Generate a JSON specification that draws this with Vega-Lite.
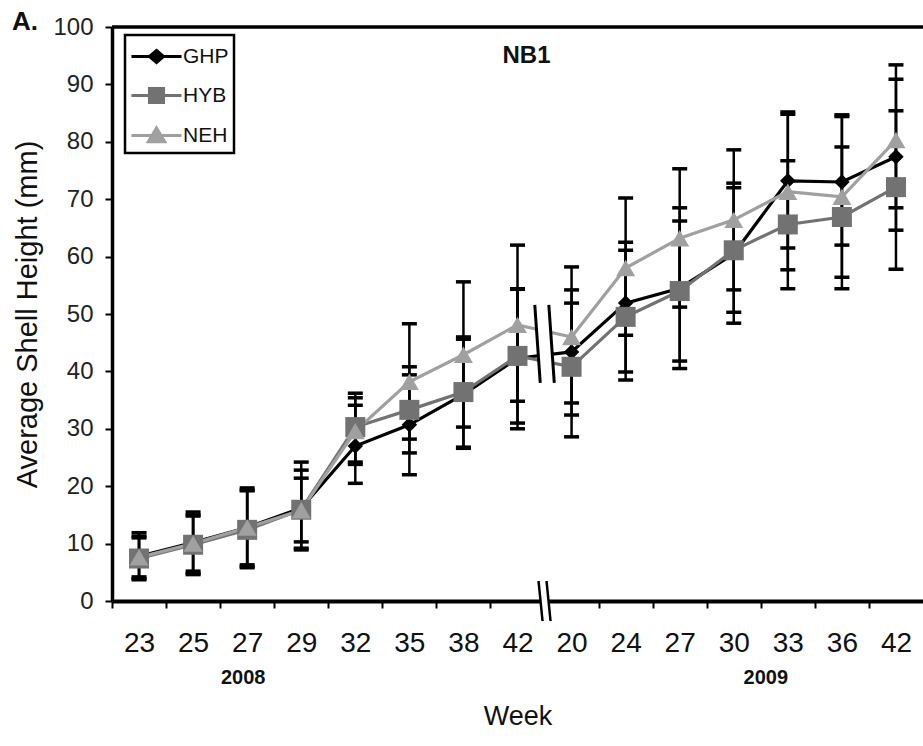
{
  "$schema": "https://vega.github.io/schema/vega-lite/v6.json",
  "autosize": "none",
  "width": 811,
  "height": 574,
  "padding": {"left": 112, "top": 27, "right": 0, "bottom": 145},
  "background": "white",
  "config": {"view": {"stroke": null}, "font": "Liberation Sans"},
  "title": {"text": "A.", "anchor": "start", "frame": "group", "dx": -100, "offset": -20, "fontSize": 26, "fontWeight": "bold", "font": "Liberation Sans", "color": "#111"},
  "datasets": {
    "shell": [
      {"week": "2008-23", "series": "GHP", "mean": 7.8, "lo": 3.7, "hi": 11.9},
      {"week": "2008-25", "series": "GHP", "mean": 10.2, "lo": 4.8, "hi": 15.5},
      {"week": "2008-27", "series": "GHP", "mean": 12.8, "lo": 6.0, "hi": 19.7},
      {"week": "2008-29", "series": "GHP", "mean": 16.2, "lo": 8.9, "hi": 24.2},
      {"week": "2008-32", "series": "GHP", "mean": 27.0, "lo": 20.5, "hi": 34.1},
      {"week": "2008-35", "series": "GHP", "mean": 30.7, "lo": 22.0, "hi": 39.4},
      {"week": "2008-38", "series": "GHP", "mean": 36.0, "lo": 26.6, "hi": 45.6},
      {"week": "2008-42", "series": "GHP", "mean": 42.3, "lo": 30.0, "hi": 54.3},
      {"week": "2009-20", "series": "GHP", "mean": 43.4, "lo": 32.4, "hi": 54.2},
      {"week": "2009-24", "series": "GHP", "mean": 51.9, "lo": 39.9, "hi": 62.5},
      {"week": "2009-27", "series": "GHP", "mean": 54.5, "lo": 40.5, "hi": 68.5},
      {"week": "2009-30", "series": "GHP", "mean": 60.5, "lo": 48.4, "hi": 72.8},
      {"week": "2009-33", "series": "GHP", "mean": 73.2, "lo": 61.5, "hi": 85.2},
      {"week": "2009-36", "series": "GHP", "mean": 73.0, "lo": 62.0, "hi": 84.7},
      {"week": "2009-42", "series": "GHP", "mean": 77.4, "lo": 64.6, "hi": 90.9},
      {"week": "2008-23", "series": "HYB", "mean": 7.4, "lo": 3.9, "hi": 11.3},
      {"week": "2008-25", "series": "HYB", "mean": 9.8, "lo": 4.6, "hi": 15.0},
      {"week": "2008-27", "series": "HYB", "mean": 12.4, "lo": 5.8, "hi": 19.2},
      {"week": "2008-29", "series": "HYB", "mean": 15.9, "lo": 9.2, "hi": 22.8},
      {"week": "2008-32", "series": "HYB", "mean": 30.3, "lo": 24.2, "hi": 36.2},
      {"week": "2008-35", "series": "HYB", "mean": 33.3, "lo": 25.8, "hi": 40.8},
      {"week": "2008-38", "series": "HYB", "mean": 36.4, "lo": 26.8, "hi": 46.0},
      {"week": "2008-42", "series": "HYB", "mean": 42.7, "lo": 31.0, "hi": 54.4},
      {"week": "2009-20", "series": "HYB", "mean": 40.8, "lo": 28.6, "hi": 51.9},
      {"week": "2009-24", "series": "HYB", "mean": 49.5, "lo": 38.5, "hi": 61.1},
      {"week": "2009-27", "series": "HYB", "mean": 54.0, "lo": 41.8, "hi": 66.2},
      {"week": "2009-30", "series": "HYB", "mean": 61.1, "lo": 50.3, "hi": 72.0},
      {"week": "2009-33", "series": "HYB", "mean": 65.6, "lo": 54.4, "hi": 76.7},
      {"week": "2009-36", "series": "HYB", "mean": 66.9, "lo": 54.4, "hi": 79.1},
      {"week": "2009-42", "series": "HYB", "mean": 72.1, "lo": 57.8, "hi": 85.4},
      {"week": "2008-23", "series": "NEH", "mean": 7.6, "lo": 4.2, "hi": 11.0},
      {"week": "2008-25", "series": "NEH", "mean": 10.0, "lo": 5.2, "hi": 14.8},
      {"week": "2008-27", "series": "NEH", "mean": 12.8, "lo": 6.3, "hi": 19.3},
      {"week": "2008-29", "series": "NEH", "mean": 15.8, "lo": 10.3, "hi": 21.4},
      {"week": "2008-32", "series": "NEH", "mean": 29.6, "lo": 23.8, "hi": 35.4},
      {"week": "2008-35", "series": "NEH", "mean": 38.2, "lo": 28.2, "hi": 48.3},
      {"week": "2008-38", "series": "NEH", "mean": 42.9, "lo": 30.3, "hi": 55.6},
      {"week": "2008-42", "series": "NEH", "mean": 48.1, "lo": 34.8, "hi": 62.0},
      {"week": "2009-20", "series": "NEH", "mean": 46.0, "lo": 34.5, "hi": 58.2},
      {"week": "2009-24", "series": "NEH", "mean": 58.0, "lo": 46.3, "hi": 70.2},
      {"week": "2009-27", "series": "NEH", "mean": 63.2, "lo": 51.2, "hi": 75.3},
      {"week": "2009-30", "series": "NEH", "mean": 66.4, "lo": 54.2, "hi": 78.6},
      {"week": "2009-33", "series": "NEH", "mean": 71.3, "lo": 57.7, "hi": 84.8},
      {"week": "2009-36", "series": "NEH", "mean": 70.4, "lo": 56.4, "hi": 84.4},
      {"week": "2009-42", "series": "NEH", "mean": 80.3, "lo": 68.5, "hi": 93.4}
    ],
    "years": [
      {"week": "2008-27", "label": "2008", "v": -13.5, "side": "a"},
      {"week": "2009-30", "label": "2009", "v": -13.5, "side": "b"}
    ],
    "breaks": [
      {"week": "2008-42", "v": 44.8}
    ],
    "axisbreak": [
      {"week": "2008-42", "v": 0}
    ]
  },
  "layer": [
    {
      "data": {"name": "shell"},
      "mark": {"type": "rule", "color": "black", "strokeWidth": 2.5},
      "encoding": {
        "x": {"field": "week", "type": "ordinal", "scale": {"type": "band", "domain": ["2008-23","2008-25","2008-27","2008-29","2008-32","2008-35","2008-38","2008-42","2009-20","2009-24","2009-27","2009-30","2009-33","2009-36","2009-42"], "paddingInner": 0, "paddingOuter": 0},
          "axis": {"title": "Week", "titleFont": "Liberation Sans", "titleFontSize": 27, "titleFontWeight": "normal", "titleColor": "#111", "titlePadding": 46,
            "labelAngle": 0, "labelExpr": "slice(datum.value, 5)", "tickOffset": -27.03, "labelOffset": 27.03, "domainWidth": 4, "domainColor": "black", "tickColor": "black", "tickWidth": 2, "tickSize": 7,
            "labelFont": "Liberation Sans", "labelFontSize": 28, "labelColor": "#111", "labelPadding": 21}},
        "y": {"field": "lo", "type": "quantitative", "scale": {"domain": [0, 100], "nice": false, "zero": true},
          "axis": {"title": "Average Shell Height (mm)", "values": [0,10,20,30,40,50,60,70,80,90,100], "grid": false, "domainWidth": 3.5, "domainColor": "black", "tickColor": "black", "tickWidth": 2, "tickSize": 7,
            "labelFont": "Liberation Sans", "labelFontSize": 24, "labelColor": "#222", "labelPadding": 12,
            "titleFont": "Liberation Sans", "titleFontSize": 29, "titleFontWeight": "normal", "titleColor": "#111", "titlePadding": 10}},
        "y2": {"field": "hi"}
      }
    },
    {
      "data": {"name": "shell"},
      "mark": {"type": "tick", "color": "black", "size": 15, "thickness": 3.5, "opacity": 1},
      "encoding": {
        "x": {"field": "week", "type": "ordinal", "scale": {"type": "band", "domain": ["2008-23","2008-25","2008-27","2008-29","2008-32","2008-35","2008-38","2008-42","2009-20","2009-24","2009-27","2009-30","2009-33","2009-36","2009-42"], "paddingInner": 0, "paddingOuter": 0}},
        "y": {"field": "lo", "type": "quantitative"}
      }
    },
    {
      "data": {"name": "shell"},
      "mark": {"type": "tick", "color": "black", "size": 15, "thickness": 3.5, "opacity": 1},
      "encoding": {
        "x": {"field": "week", "type": "ordinal", "scale": {"type": "band", "domain": ["2008-23","2008-25","2008-27","2008-29","2008-32","2008-35","2008-38","2008-42","2009-20","2009-24","2009-27","2009-30","2009-33","2009-36","2009-42"], "paddingInner": 0, "paddingOuter": 0}},
        "y": {"field": "hi", "type": "quantitative"}
      }
    },
    {
      "data": {"name": "shell"},
      "mark": {"type": "line", "strokeWidth": 3.2},
      "encoding": {
        "x": {"field": "week", "type": "ordinal", "scale": {"type": "band", "domain": ["2008-23","2008-25","2008-27","2008-29","2008-32","2008-35","2008-38","2008-42","2009-20","2009-24","2009-27","2009-30","2009-33","2009-36","2009-42"], "paddingInner": 0, "paddingOuter": 0}},
        "y": {"field": "mean", "type": "quantitative"},
        "color": {"field": "series", "type": "nominal", "scale": {"domain": ["GHP", "HYB", "NEH"], "range": ["#000000", "#727272", "#a0a0a0"]},
          "legend": {"title": null, "orient": "none", "legendX": 13, "legendY": 8, "direction": "vertical",
            "strokeColor": "black", "fillColor": "white", "padding": 5,
            "symbolSize": 900, "symbolOffset": 10, "labelOffset": 10, "rowPadding": 10,
            "labelFont": "Liberation Sans", "labelFontSize": 21, "labelColor": "#111",
            "encode": {
              "legend": {"update": {"strokeWidth": {"value": 2.5}}},
              "symbols": {"update": {
                "shape": {"signal": "datum.value === 'GHP' ? 'M-1.67,0H1.67M0,-0.4L0.47,0L0,0.4L-0.47,0Z' : datum.value === 'HYB' ? 'M-1.67,0H1.67M-0.47,-0.47H0.47V0.47H-0.47Z' : 'M-1.67,0H1.67M0,-0.5L0.55,0.42H-0.55Z'"},
                "fill": {"signal": "datum.value === 'GHP' ? '#000000' : datum.value === 'HYB' ? '#727272' : '#a0a0a0'"},
                "stroke": {"signal": "datum.value === 'GHP' ? '#000000' : datum.value === 'HYB' ? '#727272' : '#a0a0a0'"},
                "strokeWidth": {"value": 3},
                "opacity": {"value": 1}
              }}
            }}
        }
      }
    },
    {
      "data": {"name": "shell"},
      "transform": [{"filter": "datum.series === 'GHP'"}],
      "mark": {"type": "point", "shape": "diamond", "size": 240, "filled": true, "color": "#000000", "opacity": 1},
      "encoding": {
        "x": {"field": "week", "type": "ordinal", "scale": {"type": "band", "domain": ["2008-23","2008-25","2008-27","2008-29","2008-32","2008-35","2008-38","2008-42","2009-20","2009-24","2009-27","2009-30","2009-33","2009-36","2009-42"], "paddingInner": 0, "paddingOuter": 0}},
        "y": {"field": "mean", "type": "quantitative"}
      }
    },
    {
      "data": {"name": "shell"},
      "transform": [{"filter": "datum.series === 'HYB'"}],
      "mark": {"type": "point", "shape": "square", "size": 400, "filled": true, "color": "#727272", "opacity": 1},
      "encoding": {
        "x": {"field": "week", "type": "ordinal", "scale": {"type": "band", "domain": ["2008-23","2008-25","2008-27","2008-29","2008-32","2008-35","2008-38","2008-42","2009-20","2009-24","2009-27","2009-30","2009-33","2009-36","2009-42"], "paddingInner": 0, "paddingOuter": 0}},
        "y": {"field": "mean", "type": "quantitative"}
      }
    },
    {
      "data": {"name": "shell"},
      "transform": [{"filter": "datum.series === 'NEH'"}],
      "mark": {"type": "point", "shape": "triangle-up", "size": 360, "filled": true, "color": "#a0a0a0", "opacity": 1},
      "encoding": {
        "x": {"field": "week", "type": "ordinal", "scale": {"type": "band", "domain": ["2008-23","2008-25","2008-27","2008-29","2008-32","2008-35","2008-38","2008-42","2009-20","2009-24","2009-27","2009-30","2009-33","2009-36","2009-42"], "paddingInner": 0, "paddingOuter": 0}},
        "y": {"field": "mean", "type": "quantitative"}
      }
    },
    {
      "data": {"values": [{"week": "2008-42", "label": "NB1", "v": 95}]},
      "mark": {"type": "text", "font": "Liberation Sans", "fontSize": 24, "fontWeight": "bold", "color": "#111", "dx": 9, "baseline": "middle", "align": "center"},
      "encoding": {
        "x": {"field": "week", "type": "ordinal", "scale": {"type": "band", "domain": ["2008-23","2008-25","2008-27","2008-29","2008-32","2008-35","2008-38","2008-42","2009-20","2009-24","2009-27","2009-30","2009-33","2009-36","2009-42"], "paddingInner": 0, "paddingOuter": 0}},
        "y": {"field": "v", "type": "quantitative"},
        "text": {"field": "label"}
      }
    },
    {
      "data": {"name": "years"},
      "transform": [{"filter": "datum.side === 'a'"}],
      "mark": {"type": "text", "font": "Liberation Sans", "fontSize": 20, "fontWeight": "bold", "color": "#111", "dx": -4, "baseline": "middle", "align": "center"},
      "encoding": {
        "x": {"field": "week", "type": "ordinal", "scale": {"type": "band", "domain": ["2008-23","2008-25","2008-27","2008-29","2008-32","2008-35","2008-38","2008-42","2009-20","2009-24","2009-27","2009-30","2009-33","2009-36","2009-42"], "paddingInner": 0, "paddingOuter": 0}},
        "y": {"field": "v", "type": "quantitative"},
        "text": {"field": "label"}
      }
    },
    {
      "data": {"name": "years"},
      "transform": [{"filter": "datum.side === 'b'"}],
      "mark": {"type": "text", "font": "Liberation Sans", "fontSize": 20, "fontWeight": "bold", "color": "#111", "dx": 5, "baseline": "middle", "align": "center"},
      "encoding": {
        "x": {"field": "week", "type": "ordinal", "bandPosition": 1, "scale": {"type": "band", "domain": ["2008-23","2008-25","2008-27","2008-29","2008-32","2008-35","2008-38","2008-42","2009-20","2009-24","2009-27","2009-30","2009-33","2009-36","2009-42"], "paddingInner": 0, "paddingOuter": 0}},
        "y": {"field": "v", "type": "quantitative"},
        "text": {"field": "label"}
      }
    },
    {
      "data": {"name": "breaks"},
      "mark": {"type": "point", "shape": "M-0.25,-1L0.11,-1L0.25,1L-0.11,1Z", "filled": true, "fill": "white", "strokeWidth": 0, "size": 6084, "opacity": 1},
      "encoding": {
        "x": {"field": "week", "type": "ordinal", "bandPosition": 1, "scale": {"type": "band", "domain": ["2008-23","2008-25","2008-27","2008-29","2008-32","2008-35","2008-38","2008-42","2009-20","2009-24","2009-27","2009-30","2009-33","2009-36","2009-42"], "paddingInner": 0, "paddingOuter": 0}},
        "y": {"field": "v", "type": "quantitative"}
      }
    },
    {
      "data": {"name": "breaks"},
      "mark": {"type": "point", "shape": "M-0.25,-1L-0.11,1M0.11,-1L0.25,1", "filled": false, "stroke": "black", "strokeWidth": 3, "size": 6084, "opacity": 1},
      "encoding": {
        "x": {"field": "week", "type": "ordinal", "bandPosition": 1, "scale": {"type": "band", "domain": ["2008-23","2008-25","2008-27","2008-29","2008-32","2008-35","2008-38","2008-42","2009-20","2009-24","2009-27","2009-30","2009-33","2009-36","2009-42"], "paddingInner": 0, "paddingOuter": 0}},
        "y": {"field": "v", "type": "quantitative"}
      }
    },
    {
      "data": {"name": "axisbreak"},
      "mark": {"type": "point", "shape": "M-0.3,-1L0.1,-1L0.3,1L-0.1,1Z", "filled": true, "fill": "white", "strokeWidth": 0, "size": 1600, "opacity": 1},
      "encoding": {
        "x": {"field": "week", "type": "ordinal", "bandPosition": 1, "scale": {"type": "band", "domain": ["2008-23","2008-25","2008-27","2008-29","2008-32","2008-35","2008-38","2008-42","2009-20","2009-24","2009-27","2009-30","2009-33","2009-36","2009-42"], "paddingInner": 0, "paddingOuter": 0}},
        "y": {"field": "v", "type": "quantitative"}
      }
    },
    {
      "data": {"name": "axisbreak"},
      "mark": {"type": "point", "shape": "M-0.3,-1L-0.1,1M0.1,-1L0.3,1", "filled": false, "stroke": "black", "strokeWidth": 2.5, "size": 1600, "opacity": 1},
      "encoding": {
        "x": {"field": "week", "type": "ordinal", "bandPosition": 1, "scale": {"type": "band", "domain": ["2008-23","2008-25","2008-27","2008-29","2008-32","2008-35","2008-38","2008-42","2009-20","2009-24","2009-27","2009-30","2009-33","2009-36","2009-42"], "paddingInner": 0, "paddingOuter": 0}},
        "y": {"field": "v", "type": "quantitative"}
      }
    },
    {
      "data": {"values": [{"v": 100}]},
      "mark": {"type": "rule", "color": "black", "strokeWidth": 3.5},
      "encoding": {
        "y": {"field": "v", "type": "quantitative"}
      }
    }
  ]
}
